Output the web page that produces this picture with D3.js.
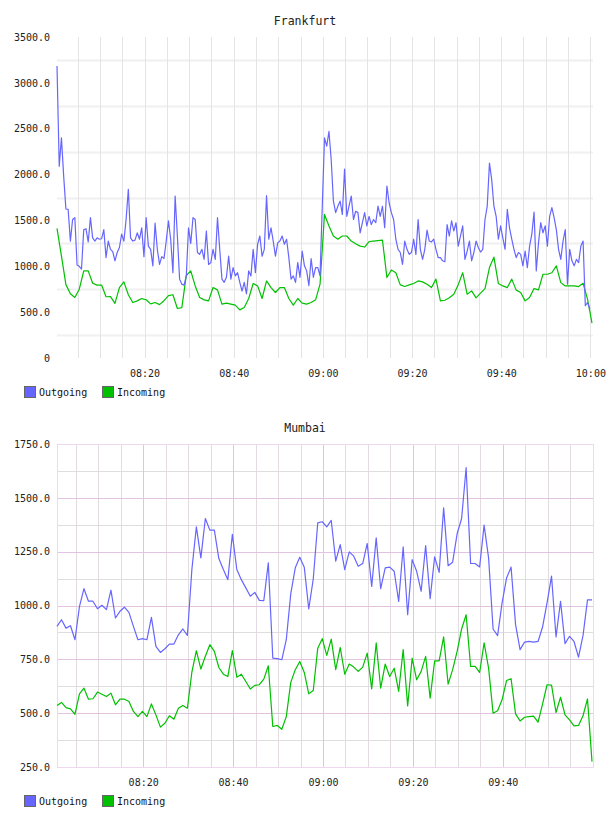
<!DOCTYPE html>
<html>
<head>
<meta charset="utf-8">
<script src="https://cdn.jsdelivr.net/npm/d3@7"></script>
<style>
  body { margin: 0; background: #fff; }
  svg { display: block; }
  .axis text { font-family: "DejaVu Sans Mono", monospace; font-size: 10px; fill: #222; }
  .title { font-family: "DejaVu Sans Mono", monospace; font-size: 11.5px; fill: #222; }
  .legend text { font-family: "DejaVu Sans Mono", monospace; font-size: 10px; fill: #111; }
</style>
</head>
<body>
<div class="charts"></div>
<script>
// traffic samples
var seriesNames = ["Outgoing", "Incoming"],
    seriesColors = ["#6666ff", "#00c000"];

// Frankfurt: outgoing sampled every 30s, incoming every 60s
var frankfurtOutStart = "08:00:22", frankfurtOutStep = 30;
var frankfurtOut = [
  3185, 2090, 2400, 1980, 1625, 1620, 1275, 1510, 1530, 1015,
  1000, 970, 1400, 1410, 1265, 1530, 1310, 1275, 1310, 1295,
  1300, 1400, 1095, 1275, 1185, 1160, 1060, 1150, 1205, 1350,
  1275, 1510, 1840, 1310, 1275, 1285, 1365, 1295, 1420, 1105,
  1530, 1220, 1185, 1005, 1470, 1185, 1020, 1105, 1085, 1275,
  1495, 1295, 930, 1765, 1330, 860, 805, 795, 895, 1420,
  1250, 1530, 1510, 1150, 1130, 1185, 1075, 1385, 1020, 1040,
  1185, 1075, 1530, 1185, 860, 825, 880, 1110, 860, 985,
  895, 930, 825, 730, 825, 700, 950, 895, 1185, 930,
  1240, 1330, 1110, 1185, 1770, 1295, 1420, 1275, 1110, 1255,
  1275, 1330, 1240, 1295, 1095, 860, 895, 825, 1040, 880,
  1165, 1005, 950, 790, 1085, 880, 985, 985, 895, 1655,
  2400, 2310, 2470, 2165, 1710, 1585, 1655, 1710, 1565, 2060,
  1545, 1655, 1765, 1510, 1600, 1585, 1365, 1475, 1585, 1440,
  1545, 1455, 1510, 1475, 1655, 1545, 1655, 1420, 1875, 1690,
  1585, 1510, 1295, 1185, 1150, 1020, 1275, 1185, 1130, 1150,
  1295, 1130, 1510, 1185, 1075, 1185, 1395, 1275, 1265, 1295,
  1185, 1095, 1095, 1060, 1050, 1455, 1330, 1495, 1385, 1475,
  1220, 1330, 1440, 1075, 1165, 1275, 1060, 1150, 1275, 1205,
  1155, 1185, 1510, 1655, 2125, 1945, 1655, 1545, 1295, 1440,
  1310, 1185, 1620, 1420, 1295, 1185, 1095, 1150, 1130, 1005,
  1165, 985, 1220, 1350, 1590, 950, 1255, 1475, 1365, 1440,
  1220, 1545, 1640, 1530, 1400, 1185, 1075, 1275, 1400, 805,
  1185, 1060, 1005, 1075, 1040, 1220, 1275, 570, 605, 535
];
var frankfurtInStart = "08:00:22", frankfurtInStep = 60;
var frankfurtIn = [
  1413, 1110, 800, 700, 660, 750, 950, 950, 815, 795,
  795, 668, 670, 595, 768, 830, 690, 605, 623, 648,
  635, 590, 605, 582, 625, 680, 690, 540, 550, 900,
  950, 786, 660, 634, 623, 768, 743, 587, 598, 587,
  576, 525, 551, 649, 812, 786, 649, 840, 768, 714,
  768, 768, 649, 576, 649, 598, 587, 605, 634, 805,
  1565, 1440, 1330, 1295, 1330, 1330, 1275, 1245, 1220, 1210,
  1270, 1275, 1280, 1285, 877, 960, 930, 797, 780, 797,
  812, 840, 830, 805, 768, 860, 623, 630, 656, 695,
  800, 930, 695, 732, 656, 707, 757, 986, 1100, 812,
  786, 768, 860, 740, 714, 623, 660, 757, 743, 913,
  913, 930, 1004, 822, 786, 786, 786, 779, 815, 641,
  380
];
var frankfurtYTicks = [0, 500, 1000, 1500, 2000, 2500, 3000, 3500],
    frankfurtYGrid = [250, 750, 1250, 1750, 2250, 2750, 3250];

// Mumbai: both series sampled every 60s
var mumbaiStart = "08:00:50", mumbaiStep = 60;
var mumbaiOut = [
  903, 934, 895, 906, 841, 996, 1078, 1020, 1020, 985,
  1001, 981, 1071, 942, 973, 992, 968, 903, 841, 846,
  841, 945, 810, 782, 799, 821, 821, 864, 891, 861,
  1167, 1365, 1221, 1404, 1350, 1350, 1218, 1167, 1120, 1330,
  1167, 1120, 1082, 1043, 1061, 1024, 1023, 1198, 756, 753,
  748, 841, 1055, 1175, 1224, 1178, 984, 1123, 1384, 1389,
  1365, 1395, 1206, 1283, 1167, 1249, 1229, 1182, 1195, 1288,
  1089, 1314, 1078, 1175, 1178, 1159, 1019, 1272, 957, 1213,
  1159, 1066, 1278, 1032, 1226, 1154, 1454, 1185, 1201, 1333,
  1404, 1640, 1195, 1195, 1179, 1373, 1221, 891, 860, 1012,
  1128, 1178, 911, 795, 830, 833, 830, 833, 900, 1012,
  1136, 854, 1019, 823, 857, 833, 760, 860, 1026, 1026
];
var mumbaiIn = [
  536, 550, 526, 520, 495, 590, 616, 565, 567, 598,
  588, 577, 593, 539, 565, 565, 554, 508, 484, 508,
  484, 543, 492, 435, 453, 488, 472, 523, 536, 523,
  691, 790, 705, 764, 818, 787, 712, 681, 670, 791,
  667, 681, 647, 612, 629, 632, 658, 720, 438, 443,
  425, 484, 643, 702, 740, 689, 590, 605, 802, 846,
  768, 844, 702, 805, 681, 728, 714, 694, 714, 779,
  613, 826, 616, 728, 670, 709, 601, 795, 534, 756,
  655, 694, 764, 570, 743, 743, 854, 635, 702, 787,
  891, 957, 717, 717, 689, 826, 709, 500, 511, 562,
  652, 660, 497, 464, 481, 484, 486, 458, 542, 632,
  630, 503, 574, 492, 469, 441, 443, 488, 566, 275
];
var mumbaiYTicks = [250, 500, 750, 1000, 1250, 1500, 1750],
    mumbaiYGrid = [375, 625, 875, 1125, 1375, 1625];

var parseTime = d3.timeParse("%H:%M:%S");

// turn a list of values into {date, value} using its start time and sample step
function to_points(start, step, values) {
    var t0 = parseTime(start);
    return values.map(function(v, i) {
        return {date: new Date(t0.getTime() + i * step * 1000), value: v};
    });
}

var viewbox_width = 608, viewbox_height = 816;
var svg = d3.select(".charts").append("svg")
    .attr("width", viewbox_width)
    .attr("height", viewbox_height);

function draw_chart(o) {
    var margin = {left: 57},
        width = 535,
        height = o.height;

    var allpoints = d3.merge(o.series);
    var xScale = d3.scaleTime()
            .domain(d3.extent(allpoints, function(d) { return d.date; }))
            .range([0, width]),
        yScale = d3.scaleLinear().domain(o.ydomain).range([height, 0]);

    var g = svg.append("g")
        .attr("transform", "translate(" + margin.left + "," + o.top + ")");

    // title
    svg.append("text")
        .attr("class", "title")
        .attr("x", 305)
        .attr("y", o.top - 16)
        .attr("dy", "0.35em")
        .style("text-anchor", "middle")
        .text(o.title);

    // grid
    var grid = g.append("g").attr("class", "grid");
    grid.selectAll(".hminor")
        .data(o.ygrid)
      .enter().append("line")
        .attr("x1", 0).attr("x2", width + 1)
        .attr("y1", function(d) { return Math.round(yScale(d)) + 0.5; })
        .attr("y2", function(d) { return Math.round(yScale(d)) + 0.5; })
        .attr("stroke", o.gridColor)
        .attr("stroke-width", o.hGridWidth);
    grid.selectAll(".vminor")
        .data(xScale.ticks(d3.timeMinute.every(5)))
      .enter().append("line")
        .attr("x1", function(d) { return Math.round(xScale(d)) + 0.5; })
        .attr("x2", function(d) { return Math.round(xScale(d)) + 0.5; })
        .attr("y1", 0).attr("y2", height)
        .attr("stroke", function(d) {
            return (o.majorColor && d.getMinutes() % 20 == 0) ? o.majorColor : o.vGridColor;
        });
    if (o.majorColor) {
        grid.selectAll(".hmajor")
            .data(o.yticks)
          .enter().append("line")
            .attr("x1", 0).attr("x2", width + 1)
            .attr("y1", function(d) { return Math.round(yScale(d)) + 0.5; })
            .attr("y2", function(d) { return Math.round(yScale(d)) + 0.5; })
            .attr("stroke", o.majorColor);
        grid.append("rect")
            .attr("x", 0.5).attr("y", 0.5)
            .attr("width", width + 1).attr("height", height)
            .attr("fill", "none")
            .attr("stroke", o.frameColor);
    }

    // axes
    var yAxis = d3.axisLeft(yScale)
        .tickValues(o.yticks)
        .tickSize(0)
        .tickPadding(7)
        .tickFormat(function(d) { return d === 0 ? "0" : d3.format(".1f")(d); });
    g.append("g").attr("class", "y axis").call(yAxis)
        .call(function(a) { a.select(".domain").remove(); });

    var xAxis = d3.axisBottom(xScale)
        .ticks(d3.timeMinute.every(20))
        .tickSize(0)
        .tickPadding(12)
        .tickFormat(d3.timeFormat("%H:%M"));
    g.append("g").attr("class", "x axis")
        .attr("transform", "translate(0," + height + ")")
        .call(xAxis)
        .call(function(a) { a.select(".domain").remove(); });

    // lines, outgoing drawn last so it sits on top
    var line = d3.line()
        .x(function(d) { return xScale(d.date); })
        .y(function(d) { return yScale(d.value); });
    [1, 0].forEach(function(k) {
        g.append("path")
            .datum(o.series[k])
            .attr("fill", "none")
            .attr("stroke", seriesColors[k])
            .attr("stroke-width", 1.2)
            .attr("stroke-linejoin", "round")
            .attr("d", line);
    });

    // legend
    var legend = svg.append("g")
        .attr("class", "legend")
        .attr("transform", "translate(0," + (o.top + height + 34) + ")");
    var item = legend.selectAll("g")
        .data(seriesNames)
      .enter().append("g")
        .attr("transform", function(d, i) { return "translate(" + [24, 102][i] + ",0)"; });
    item.append("rect")
        .attr("x", 0.5).attr("y", -5.5)
        .attr("width", 11).attr("height", 11)
        .attr("fill", function(d, i) { return seriesColors[i]; })
        .attr("stroke", "#666");
    item.append("text")
        .attr("x", 15)
        .attr("dy", "0.35em")
        .text(function(d) { return d; });
}

draw_chart({
    title: "Frankfurt",
    top: 37, height: 321,
    ydomain: [0, 3500],
    yticks: frankfurtYTicks,
    ygrid: frankfurtYGrid,
    gridColor: "#f0f0f0", hGridWidth: 2,
    vGridColor: "#e4e4e4",
    series: [to_points(frankfurtOutStart, frankfurtOutStep, frankfurtOut),
             to_points(frankfurtInStart, frankfurtInStep, frankfurtIn)]
});

draw_chart({
    title: "Mumbai",
    top: 444, height: 323,
    ydomain: [250, 1750],
    yticks: mumbaiYTicks,
    ygrid: mumbaiYGrid,
    gridColor: "#dedede", hGridWidth: 1,
    vGridColor: "#e2dce2",
    majorColor: "#e2c4e2",
    frameColor: "#eed8ee",
    series: [to_points(mumbaiStart, mumbaiStep, mumbaiOut),
             to_points(mumbaiStart, mumbaiStep, mumbaiIn)]
});
</script>
</body>
</html>
